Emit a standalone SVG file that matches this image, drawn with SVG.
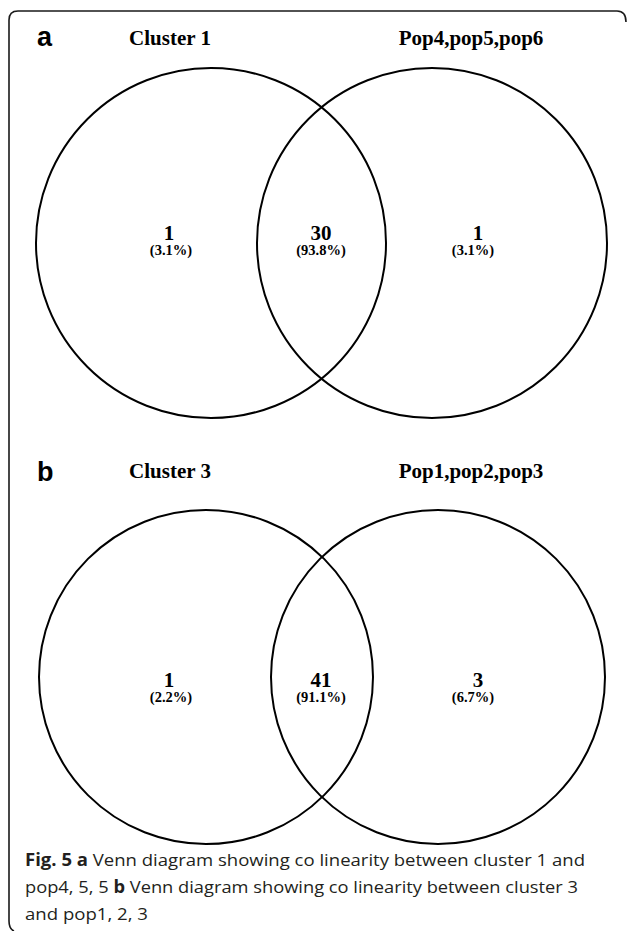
<svg xmlns="http://www.w3.org/2000/svg" width="629" height="931" viewBox="0 0 629 931">
<style>
.frame{fill:none;stroke:#1a1a1a;stroke-width:1.6}
.c{fill:none;stroke:#000;stroke-width:2}
.panel{font-family:"Liberation Sans",Arial,sans-serif;font-weight:bold;font-size:27px;fill:#000}
.title{font-family:"Liberation Serif","Times New Roman",serif;font-weight:bold;font-size:21px;fill:#000;text-anchor:middle}
.num{font-family:"Liberation Serif","Times New Roman",serif;font-weight:bold;font-size:21px;fill:#000;text-anchor:middle}
.pct{font-family:"Liberation Serif","Times New Roman",serif;font-weight:bold;font-size:14.5px;fill:#000;text-anchor:middle}
.cap{font-family:"Open Sans","Noto Sans",sans-serif;font-size:17px;fill:#231f20}
.b{font-weight:bold}
</style>
<rect x="0" y="0" width="629" height="931" fill="#fff"/>
<path class="frame" d="M626 22 Q626 11 617 11 L18 11 Q9 11 9 20 L9 921 Q9 929 14 931"/>
<g id="panel-a">
<text class="panel" x="37" y="46">a</text>
<g id="a-cluster1">
<circle class="c" cx="211" cy="243" r="175"/>
<text class="title" x="170" y="45">Cluster 1</text>
<text class="num" x="169" y="240">1</text>
<text class="pct" x="171" y="255">(3.1%)</text>
</g>
<g id="a-pop456">
<circle class="c" cx="432" cy="243" r="175"/>
<text class="title" x="471" y="45">Pop4,pop5,pop6</text>
<text class="num" x="478" y="240">1</text>
<text class="pct" x="473" y="255">(3.1%)</text>
</g>
<g id="a-overlap">
<text class="num" x="321" y="240">30</text>
<text class="pct" x="321" y="255">(93.8%)</text>
</g>
</g>
<g id="panel-b">
<text class="panel" x="37" y="481">b</text>
<g id="b-cluster3">
<circle class="c" cx="206" cy="677" r="167"/>
<text class="title" x="170" y="478">Cluster 3</text>
<text class="num" x="169" y="687">1</text>
<text class="pct" x="171" y="702">(2.2%)</text>
</g>
<g id="b-pop123">
<circle class="c" cx="438" cy="677" r="167"/>
<text class="title" x="471" y="478">Pop1,pop2,pop3</text>
<text class="num" x="478" y="687">3</text>
<text class="pct" x="473" y="702">(6.7%)</text>
</g>
<g id="b-overlap">
<text class="num" x="321" y="687">41</text>
<text class="pct" x="321" y="702">(91.1%)</text>
</g>
</g>
<g id="connectors"/>
<g id="caption">
<text class="cap" x="25" y="866" textLength="560" lengthAdjust="spacingAndGlyphs"><tspan class="b">Fig. 5 a</tspan> Venn diagram showing co linearity between cluster 1 and</text>
<text class="cap" x="25" y="893" textLength="553" lengthAdjust="spacingAndGlyphs">pop4, 5, 5 <tspan class="b">b</tspan> Venn diagram showing co linearity between cluster 3</text>
<text class="cap" x="25" y="920" textLength="123" lengthAdjust="spacingAndGlyphs">and pop1, 2, 3</text>
</g>
</svg>
